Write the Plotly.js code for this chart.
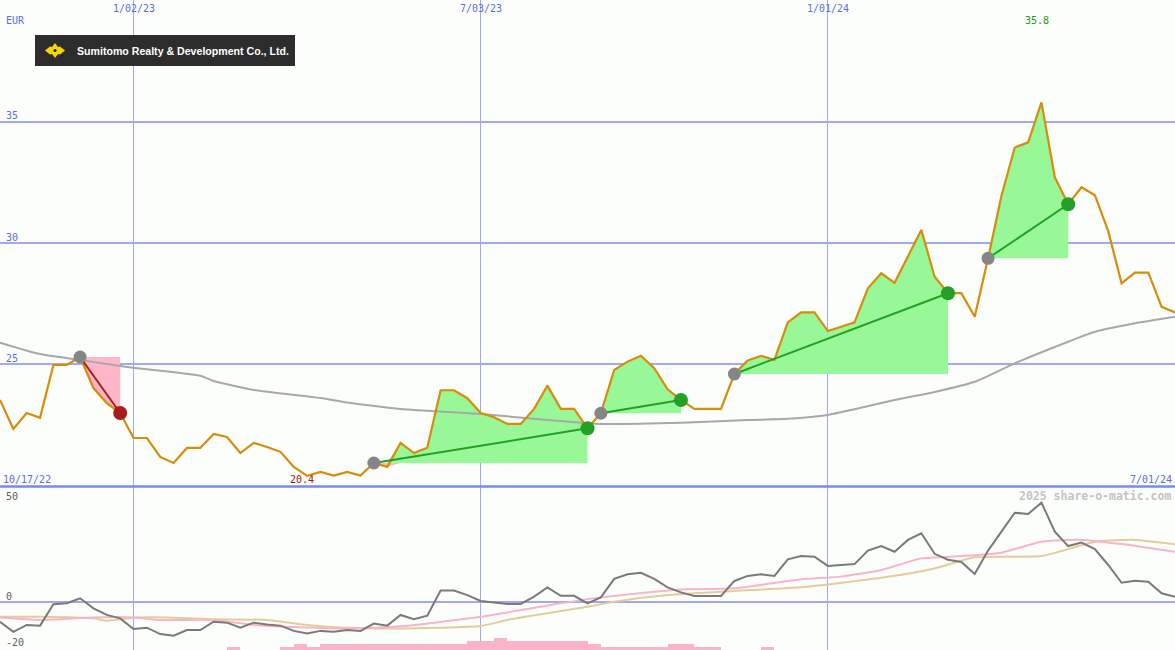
<!DOCTYPE html>
<html><head><meta charset="utf-8">
<script src="https://cdn.plot.ly/plotly-3.0.1.min.js"></script>
<style>html,body{margin:0;padding:0;background:#fbfefb}#chart{width:1175px;height:650px}</style>
</head><body><div id="chart"></div>
<script>
// ---- data (weekly closes, Mondays from 10/24/22 to 7/01/24; x = week number) ----
const tickWeeks = [10, 36, 62];
const tickLabels = ['1/02/23', '7/03/23', '1/01/24'];
const firstLabel = '10/17/22';
const lastLabel = '7/01/24';
const currency = 'EUR';
const company = 'Sumitomo Realty & Development Co., Ltd.';
const lowLabel = '20.4', lowWeek = 23;
const highLabel = '35.8', highWeek = 78;

const price = [23.53,22.33,22.99,22.79,24.97,24.97,25.30,24.02,23.40,22.99,
  21.96,21.96,21.18,20.93,21.55,21.55,22.13,22.00,21.34,21.76,
  21.59,21.39,20.77,20.40,20.56,20.41,20.56,20.41,20.93,20.77,
  21.76,21.34,21.56,23.93,23.93,23.60,22.99,22.82,22.54,22.54,
  23.16,24.12,23.16,23.16,22.36,22.98,24.77,25.11,25.35,24.84,
  23.97,23.53,23.16,23.16,23.16,24.60,25.16,25.35,25.18,26.73,
  27.14,27.14,26.37,26.55,26.73,28.13,28.75,28.36,29.44,30.54,
  28.61,27.93,27.93,26.96,29.37,31.94,33.94,34.15,35.80,32.71,
  31.60,32.30,31.97,30.49,28.34,28.78,28.78,27.37,27.14];

const maWeeks  = [0,3,6,9,10,15,16,19,24,26,30,31,36,41,44,45,51,56,59,62,64,67,70,73,76,80,82,85,88];
const maValues = [25.89,25.42,25.18,24.93,24.86,24.53,24.31,23.94,23.61,23.42,23.16,23.12,22.95,22.70,22.57,22.54,22.59,22.70,22.75,22.91,23.15,23.53,23.86,24.28,25.04,25.93,26.34,26.69,26.96];

const osc = [-8.8,-13.2,-10.2,-10.5,-1.1,-0.7,1.5,-2.9,-5.8,-7.3,
  -12.0,-11.4,-14.2,-14.9,-12.4,-12.4,-8.8,-9.2,-11.4,-9.2,
  -10.0,-10.5,-12.8,-13.9,-12.8,-13.2,-12.4,-12.8,-9.6,-10.5,
  -5.8,-7.7,-6.1,4.9,4.9,2.9,0.3,-0.4,-1.0,-1.0,
  2.2,6.3,2.6,2.6,-0.7,1.9,10.0,12.0,12.7,10.0,
  6.3,4.1,2.5,2.5,2.5,9.1,11.3,12.0,11.3,18.6,
  20.0,19.7,15.7,16.1,16.5,22.4,24.4,21.9,27.1,30.0,
  21.0,18.4,17.4,12.2,22.4,30.7,39.0,38.5,43.4,30.7,
  24.4,25.9,23.1,16.1,8.3,9.2,8.8,3.7,2.2];

const oscPinkWeeks  = [0,3,7,10,12,16,19,21,26,30,36,42,45,49,51,55,60,63,66,69,72,75,78,81,84,88];
const oscPinkValues = [-6.9,-8.0,-6.9,-6.9,-8.0,-8.0,-10.2,-10.9,-11.7,-10.8,-6.6,-0.7,1.9,4.4,5.4,5.9,9.8,11.0,13.9,19.0,20.0,21.5,26.3,27.1,25.3,21.9];
const oscTanWeeks  = [0,3,7,8,10,13,16,20,23,26,30,36,38,44,46,50,55,60,66,70,73,78,82,85,88];
const oscTanValues = [-6.6,-6.6,-7.3,-8.3,-7.0,-7.0,-7.7,-8.0,-10.2,-11.4,-11.7,-10.7,-8.0,-2.2,0.0,2.9,4.7,6.3,10.5,14.6,19.5,20.0,26.3,27.1,25.2];

const volWeeks  = [17,21,22,23,24,25,26,27,28,29,30,31,32,33,34,35,36,37,38,39,40,41,42,43,44,45,46,47,48,49,50,51,52,53,57];
const volValues = [1,1,2,1,2,2,2,2,2,2,2,2,2,2,2,3,3,4,3,3,3,3,3,3,2,1,1,1,1,1,2,2,1,1,1];

const sigStart = [6, 28, 45, 55, 74];
const sigEnd   = [9, 44, 51, 71, 80];
const sigType  = ['sell','buy','buy','buy','buy'];

// ---- styling ----
const W = 1175, H = 650;
const X = px => px / W;
const Y = py => 1 - py / H;
const blue = '#5b6ee1';
const mono = 'DejaVu Sans Mono';
const weeks = price.map((_, i) => i);

const traces = [];
// signal fills
for (let k = 0; k < sigStart.length; k++) {
  const s = sigStart[k], e = sigEnd[k], lvl = price[s];
  const xs = weeks.slice(s, e + 1), ps = price.slice(s, e + 1);
  const base = {x: xs, y: xs.map(() => lvl), mode: 'lines', line: {width: 0}, hoverinfo: 'skip', yaxis: 'y'};
  traces.push(base);
  traces.push({x: xs, y: ps.map(v => Math.max(v, lvl)), mode: 'lines', line: {width: 0}, fill: 'tonexty', fillcolor: '#98f898', hoverinfo: 'skip'});
  traces.push(Object.assign({}, base));
  traces.push({x: xs, y: ps.map(v => Math.min(v, lvl)), mode: 'lines', line: {width: 0}, fill: 'tonexty', fillcolor: '#ffb6c8', hoverinfo: 'skip'});
}
// moving average
traces.push({x: maWeeks, y: maValues, mode: 'lines', line: {color: '#a8a8a8', width: 2, shape: 'spline', smoothing: 0.6}, hoverinfo: 'skip'});
// price
traces.push({x: weeks, y: price, mode: 'lines', line: {color: '#d98c0a', width: 2.2}, name: 'Price'});
// signal lines & dots
for (let k = 0; k < sigStart.length; k++) {
  const s = sigStart[k], e = sigEnd[k];
  const c = sigType[k] === 'buy' ? '#24a024' : '#a81c1c';
  traces.push({x: [s, e], y: [price[s], price[e]], mode: 'lines', line: {color: c, width: 2}, hoverinfo: 'skip'});
  traces.push({x: [s], y: [price[s]], mode: 'markers', marker: {color: '#858585', size: 13}, hoverinfo: 'skip'});
  traces.push({x: [e], y: [price[e]], mode: 'markers', marker: {color: c, size: 14}, hoverinfo: 'skip'});
}
// lower panel
traces.push({x: volWeeks.map(w => w + 0.5), y: volValues, type: 'bar', width: 1, marker: {color: '#f9b4c8', line: {width: 0}}, yaxis: 'y3', hoverinfo: 'skip'});
traces.push({x: oscTanWeeks, y: oscTanValues, mode: 'lines', line: {color: '#e4cc9c', width: 2, shape: 'spline', smoothing: 0.5}, yaxis: 'y2', hoverinfo: 'skip'});
traces.push({x: oscPinkWeeks, y: oscPinkValues, mode: 'lines', line: {color: '#f8b4c8', width: 2, shape: 'spline', smoothing: 0.5}, yaxis: 'y2', hoverinfo: 'skip'});
traces.push({x: weeks, y: osc, mode: 'lines', line: {color: '#7a7a7a', width: 2}, yaxis: 'y2', hoverinfo: 'skip'});

const topDom = [1 - 487 / H, 1];
const botDom = [0, 1 - 487 / H];

const ann = [];
const A = (o) => ann.push(Object.assign({showarrow: false, font: {family: mono, size: 10, color: blue}}, o));
tickWeeks.forEach((w, i) => A({x: w, xref: 'x', y: Y(9), yref: 'paper', text: tickLabels[i], xanchor: 'center', yanchor: 'middle'}));
A({x: X(4), xref: 'paper', y: Y(20), yref: 'paper', text: currency, xanchor: 'left', yanchor: 'middle'});
[35, 30, 25].forEach(v => A({x: X(4), xref: 'paper', y: v, yref: 'y', text: String(v), xanchor: 'left', yanchor: 'middle', yshift: 6}));
A({x: X(1), xref: 'paper', y: Y(479), yref: 'paper', text: firstLabel, xanchor: 'left', yanchor: 'middle'});
A({x: X(1174), xref: 'paper', y: Y(479), yref: 'paper', text: lastLabel, xanchor: 'right', yanchor: 'middle'});
A({x: lowWeek - 0.4, xref: 'x', y: Y(479), yref: 'paper', text: lowLabel, xanchor: 'center', yanchor: 'middle', font: {family: mono, size: 10, color: '#a01818'}});
A({x: highWeek - 0.3, xref: 'x', y: Y(21), yref: 'paper', text: highLabel, xanchor: 'center', yanchor: 'middle', font: {family: mono, size: 10, color: '#229a22'}});
A({x: X(4), xref: 'paper', y: Y(496), yref: 'paper', text: '50', xanchor: 'left', yanchor: 'middle', font: {family: mono, size: 10, color: '#606060'}});
A({x: X(4), xref: 'paper', y: 0, yref: 'y2', text: '0', xanchor: 'left', yanchor: 'middle', yshift: 5, font: {family: mono, size: 10, color: '#606060'}});
A({x: X(4), xref: 'paper', y: Y(642), yref: 'paper', text: '-20', xanchor: 'left', yanchor: 'middle', font: {family: mono, size: 10, color: '#606060'}});
A({x: X(1173), xref: 'paper', y: Y(496), yref: 'paper', text: '<b>2025 share-o-matic.com</b>', xanchor: 'right', yanchor: 'middle', font: {family: mono, size: 11.5, color: '#c4c4c4'}});
A({x: X(75), xref: 'paper', y: Y(50.5), yref: 'paper', text: '<b>' + company.replace('&', '&amp;') + '</b>', xanchor: 'left', yanchor: 'middle', font: {family: 'Liberation Sans', size: 10.6, color: '#ffffff'}});

const shapes = [
  {type: 'rect', xref: 'paper', yref: 'paper', x0: X(35), x1: X(295), y0: Y(66), y1: Y(35), fillcolor: '#2d2d2d', line: {width: 0}, layer: 'above'},
  {type: 'path', xref: 'paper', yref: 'paper', layer: 'above', fillcolor: '#f5d800', line: {width: 0},
   path: `M ${X(45)} ${Y(50.5)} L ${X(50)} ${Y(46.5)} L ${X(52)} ${Y(47)} L ${X(55)} ${Y(43)} L ${X(58)} ${Y(47)} L ${X(60)} ${Y(46.5)} L ${X(65)} ${Y(50.5)} L ${X(60)} ${Y(54.5)} L ${X(58)} ${Y(54)} L ${X(55)} ${Y(58)} L ${X(52)} ${Y(54)} L ${X(50)} ${Y(54.5)} Z`},
  {type: 'circle', xref: 'paper', yref: 'paper', layer: 'above', x0: X(53.5), x1: X(56.5), y0: Y(52), y1: Y(49), fillcolor: '#1a1a1a', line: {width: 0}},
  {type: 'line', xref: 'paper', yref: 'paper', x0: 0, x1: 1, y0: Y(486.5), y1: Y(486.5), line: {color: '#7b88ee', width: 2.5}, layer: 'above'}
];

const layout = {
  width: W, height: H,
  margin: {l: 0, r: 0, t: 0, b: 0, pad: 0},
  paper_bgcolor: '#fbfefb', plot_bgcolor: '#fbfefb',
  showlegend: false, hovermode: false,
  xaxis: {range: [0, 88], tickvals: tickWeeks, showticklabels: false, ticks: '', showgrid: true, gridcolor: '#a0a9f2', gridwidth: 1, zeroline: false, showline: false},
  yaxis: {domain: topDom, range: [19.94, 40.02], tickvals: [25, 30, 35], showticklabels: false, ticks: '', showgrid: true, gridcolor: '#a0a9f2', gridwidth: 2, zeroline: false, showline: false},
  yaxis2: {domain: botDom, range: [-21.18, 50.3], tickvals: [0], showticklabels: false, ticks: '', showgrid: true, gridcolor: '#a0a9f2', gridwidth: 2, zeroline: false, showline: false},
  yaxis3: {domain: botDom, overlaying: 'y2', range: [0, 163 / 3], showticklabels: false, showgrid: false, zeroline: false, ticks: ''},
  annotations: ann,
  shapes: shapes,
  bargap: 0
};
Plotly.newPlot('chart', traces, layout, {staticPlot: true, displayModeBar: false});
</script>
</body></html>
